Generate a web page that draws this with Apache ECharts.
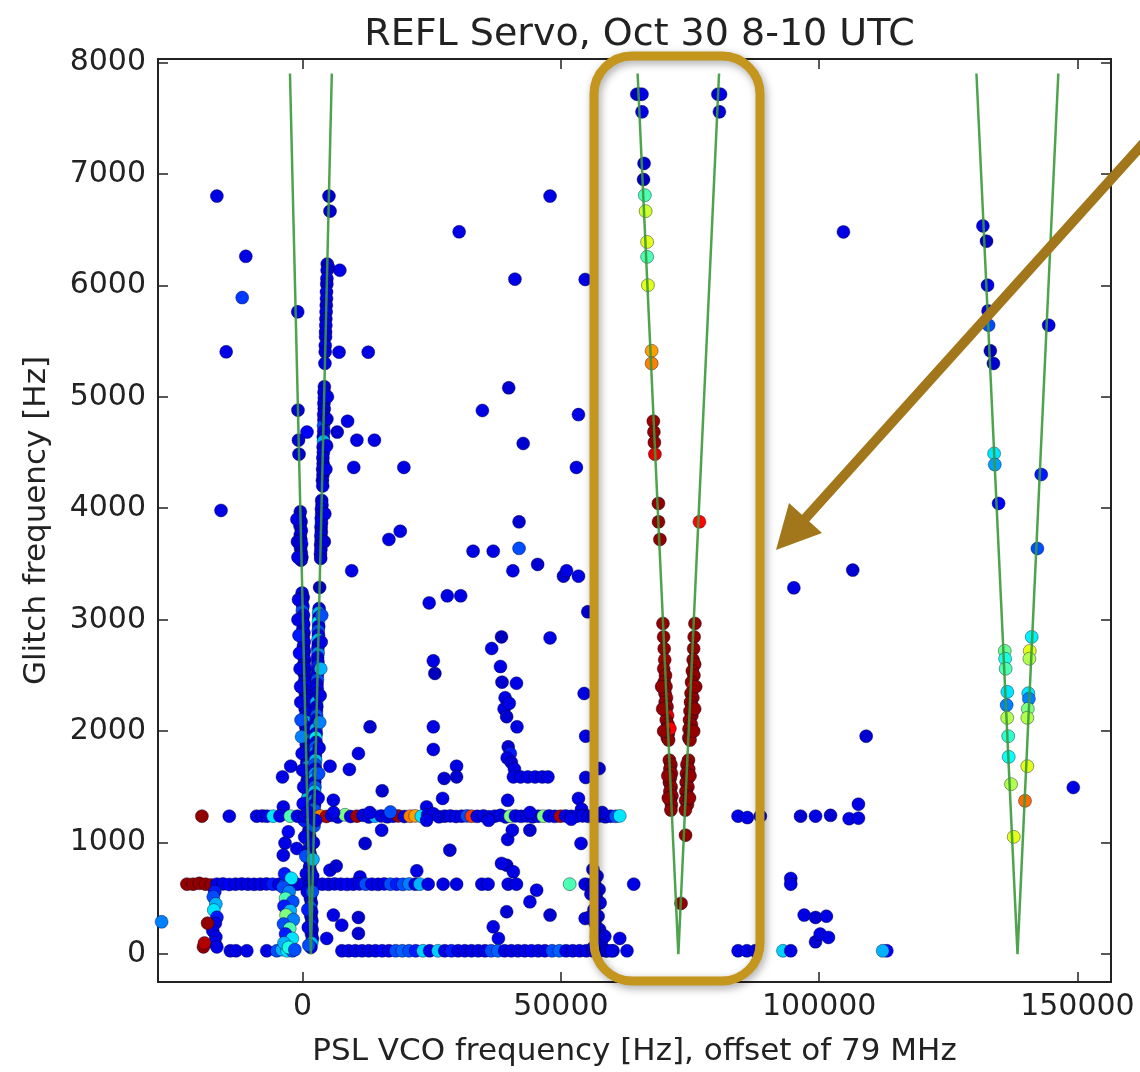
<!DOCTYPE html>
<html>
<head>
<meta charset="utf-8">
<script src="https://cdn.jsdelivr.net/npm/echarts@6/dist/echarts.min.js"></script>
<style>
html,body{margin:0;padding:0;background:#fff;}
#chart{width:1140px;height:1072px;}
</style>
</head>
<body>
<div id="chart"></div>
<script>
// ---- axis ticks ----
const xTicks = [0, 50000, 100000, 150000];
const yTicks = [0, 1000, 2000, 3000, 4000, 5000, 6000, 7000, 8000];

// ---- predicted glitch lines (V shapes) ----
const leftV  = [[-2450, 7900], [1600, 0], [5650, 7900]];
const midV   = [[64850, 7900], [72740, 0], [80620, 7900]];
const rightV = [[130450, 7900], [138400, 0], [146300, 7900]];

// ---- points: [VCO offset Hz, glitch freq Hz, colour value 0..1] ----
const scattered = [
 [-16600,6800,.1],[5100,6800,.08],[5300,6665,.08],[30300,6480,.1],[-11000,6260,.1],[-11700,5890,.18],
 [41100,6055,.1],[47900,6800,.1],[7200,6135,.1],[-950,5762,.1],[-14800,5403,.1],[7050,5400,.1],
 [12700,5400,.1],[39900,5080,.08],[34800,4877,.1],[53400,4840,.1],[42700,4581,.08],[53000,4366,.1],
 [8700,4781,.1],[6700,4683,.08],[10500,4611,.1],[13900,4611,.1],[9900,4366,.1],[19600,4366,.1],
 [850,4683,.12],[-15800,3980,.1],[41900,3878,.08],[18900,3794,.1],[16700,3720,.1],[33000,3615,.1],
 [36900,3615,.1],[41900,3640,.2],[40700,3439,.1],[45500,3496,.08],[50500,3391,.08],[51100,3439,.1],
 [53400,3391,.1],[55200,3071,.08],[9500,3439,.1],[24500,3151,.1],[28000,3214,.1],[30600,3214,.1],
 [38500,2846,.06],[36600,2742,.1],[47900,2837,.1],[25300,2631,.1],[25600,2518,.06],[54500,2338,.1],
 [54800,1955,.1],[57400,1665,.1],[54800,1585,.1],[53400,1397,.1],[53900,993,.1],[13050,2039,.08],
 [25300,2039,.1],[25300,1836,.1],[10800,1800,.1],[5300,1686,.1],[9050,1657,.1],[-2300,1686,.1],
 [-3900,1590,.1],[15400,1465,.08],[5950,1381,.1],[27100,1397,.1],[29800,1686,.1],[27400,1576,.08],
 [29800,1590,.08],[54700,6052,.1],
 [39200,2300,.1],[39000,2200,.1],[39500,2130,.08],[41500,2039,.1],[39800,1860,.08],[40200,1800,.15],
 [39600,1760,.1],[40400,1720,.08],[41000,1660,.1],[40800,1590,.1],[42200,1590,.1],[43600,1590,.1],
 [45000,1590,.1],[46400,1590,.1],[47500,1590,.1],[38300,2580,.1],[41400,2430,.1],[38600,2440,.08],
 [40000,2250,.1],
 [-3740,1321,.1],[24000,1321,.1],[-2770,1097,.12],[-3410,996,.1],[-1140,948,.1],[-3740,888,.1],
 [15300,1112,.1],[12100,993,.08],[28500,933,.08],[39700,1029,.1],[44000,1112,.08],[54000,1300,.1],
 [39700,1380,.1],[40600,1112,.1],
 [5300,753,.1],[6500,790,.08],[11100,693,.1],[22100,747,.1],[39500,798,.08],[40800,738,.1],
 [5950,350,.1],[7570,260,.1],[10800,329,.08],[10800,186,.08],[4660,141,.1],[39500,380,.08],
 [44000,469,.1],[45300,574,.1],[47900,350,.08],[36900,245,.1],[37900,141,.1],[54700,320,.1],[38500,814,.1],
 [95100,3286,.1],[106500,3445,.08],[104700,6479,.1],[149200,1495,.1],[109100,1955,.08],[107600,1345,.1],
 [94500,679,.1],[94500,628,.1],[97100,350,.1],[99300,329,.08],[101400,340,.1],[99300,110,.08],
 [100200,180,.1],[101800,150,.1],[113100,30,.12],[112300,30,.3],[93000,30,.33],[94500,30,.1],
 [84300,30,.1],[86000,30,.1],[87600,30,.1],[64100,628,.1],[61400,141,.1],[62800,30,.1],
 [84300,1238,.1],[86100,1225,.1],[88600,1238,.1],[96400,1238,.08],[99300,1238,.1],[102200,1245,.08],
 [105800,1215,.1],[107600,1220,.1]
];

const band1240 = [
 [-19500,1238,.98],[-14200,1238,.1],[-8900,1238,.1],[-7800,1240,.1],[-6900,1238,.1],[-5700,1238,.35],
 [-4400,1240,.1],[-2400,1238,.45],[-1000,1238,.1],
 [400,1238,.1],[1700,1230,.2],[3400,1240,.75],[4600,1235,.95],[5600,1245,.1],[6800,1230,.1],[8200,1250,.5],
 [9300,1235,.1],[10500,1238,.97],[11700,1245,.1],[12800,1230,.1],[14000,1238,.3],[15200,1240,.1],
 [16400,1232,.1],[17500,1238,.1],[18500,1240,.97],[19700,1235,.1],[20800,1238,.75],[21800,1240,.72],
 [23000,1236,.35],[24200,1250,.1],[25300,1260,.1],[26400,1232,.1],[27500,1238,.08],[28600,1240,.1],
 [29700,1235,.1],[30800,1238,.1],[31800,1240,.2],[32700,1238,.82],[33800,1236,.1],[35000,1240,.1],
 [36100,1232,.1],[37200,1238,.1],[38300,1245,.1],[39300,1230,.1],[40200,1238,.5],[41200,1240,.1],
 [42300,1236,.1],[43400,1240,.1],[44500,1232,.1],[45600,1238,.1],[46600,1238,.5],[47700,1240,.1],
 [48800,1236,.1],[49900,1238,.95],[50900,1240,.1],[52000,1236,.1],[53100,1238,.1],[54200,1240,.1],
 [55300,1236,.1],[56400,1238,.1],[57500,1240,.1],[58600,1232,.1],[59600,1238,.1],[60600,1236,.2],
 [61400,1240,.35],
 [1000,1275,.1],[2500,1200,.1],[6000,1270,.1],[13000,1270,.1],[17000,1275,.2],[24000,1200,.1],
 [36000,1200,.1],[44000,1270,.1],[52000,1210,.1],[58000,1270,.1]
];

const band630 = [
 [-22400,628,.98],[-21200,628,.98],[-20000,635,.98],[-18800,628,.98],[-17700,620,.98],
 [-16600,628,.1],[-15400,630,.1],[-14200,625,.12],[-13000,628,.1],[-11800,630,.1],[-10600,628,.1],
 [-9400,626,.1],[-8200,628,.1],[-7000,630,.1],[-5800,628,.15],[-4600,626,.1],[-3400,628,.2],
 [-2200,630,.1],[-1000,628,.1],[200,626,.1],[1400,630,.12],[2600,628,.1],[3800,628,.1],[5000,626,.1],
 [6200,630,.1],[7400,628,.1],[8600,626,.12],[9800,628,.1],[11000,630,.1],[12200,628,.2],[13400,628,.1],
 [14600,626,.1],[15800,630,.1],[17000,628,.2],[18200,628,.15],[19400,626,.2],[20600,630,.25],
 [21800,628,.1],[22700,628,.3],
 [24300,628,.1],[27200,628,.1],[29800,628,.1],[34700,628,.1],[35900,628,.1],[39800,628,.1],
 [41400,628,.1],[51700,628,.45],[54700,628,.1],[56000,628,.1]
];

const band30 = [
 [-14000,30,.1],[-12900,30,.1],[-10800,30,.1],[-6950,30,.1],[-5000,30,.2],[-4000,40,.3],[-3000,30,.35],
 [-2000,30,.2],
 [7600,30,.1],[8900,30,.1],[10200,30,.1],[11500,30,.1],[12800,30,.1],[14100,30,.1],[15400,30,.12],
 [16700,30,.1],[18000,30,.2],[19300,30,.22],[20600,30,.2],[21900,30,.15],[23300,30,.33],[24600,30,.1],
 [26200,30,.33],[27500,30,.1],[28800,30,.15],[30100,30,.1],[31400,30,.1],[32700,30,.1],[34000,30,.1],
 [35300,30,.1],[36500,30,.2],[37800,30,.22],[39100,30,.1],[40400,30,.1],[41700,30,.1],[43000,30,.1],
 [44300,30,.12],[45600,30,.1],[46900,30,.1],[48300,30,.2],[49700,30,.22],[51000,30,.1],[52300,30,.1],
 [53600,30,.1],[54900,30,.1],[56200,30,.1],[57500,30,.1],[58800,30,.1],[60100,30,.1]
];

const bracketPoints = [
 [-17000,560,.15],[-17300,514,.2],[-16800,450,.3],[-17200,395,.35],[-16600,330,.15],[-16900,278,.1],
 [-17400,210,.1],[-16800,153,.1],[-17000,100,.12],[-16600,65,.1],[-18400,278,.98],[-19200,65,.98],
 [-19000,100,.95],[-27300,290,.25],
 [-3500,720,.15],[-2200,680,.35],[-3800,600,.2],[-2600,560,.25],[-3300,500,.45],[-1900,470,.2],
 [-3600,430,.15],[-2400,390,.3],[-3200,350,.5],[-1800,310,.25],[-3700,270,.2],[-2500,230,.45],
 [-3300,180,.15],[-2000,140,.35],[-3600,100,.3],[-2700,60,.4],[-1500,40,.2],
 [56200,760,.1],[57000,700,.1],[56500,640,.1],[57400,580,.1],[56800,520,.1],[57600,460,.1],
 [56400,400,.12],[57200,340,.1],[56600,280,.1],[57500,220,.1],[56900,160,.1],[57800,100,.12],
 [56300,60,.1],[58800,30,.1],[59700,30,.1],[58500,160,.1],[55500,330,.1],[55800,540,.1]
];

const leftVArmA = [
 [-900,4880,.08],[-800,4611,.08],[-700,4485,.08],
 [-450,3968,.08],[-600,3920,.1],[-300,3880,.08],[-500,3840,.1],[-250,3800,.08],[-450,3760,.1],
 [-350,3720,.08],[-200,3680,.12],[-400,3640,.1],[-250,3600,.08],[-150,3560,.1],[-300,3534,.08],
 [-100,3240,.1],[100,3200,.08],[-150,3160,.12],[50,3120,.1],[-50,3080,.2],[150,3040,.1],[0,3000,.08],
 [200,2960,.1],[50,2920,.12],[250,2880,.1],[100,2840,.08],[300,2800,.1],[150,2760,.1],[350,2720,.08],
 [200,2680,.12],[400,2640,.1],[250,2600,.08],[450,2560,.1],[300,2520,.1],[500,2480,.08],[350,2440,.1],
 [550,2400,.12],[400,2360,.1],[600,2320,.08],[450,2280,.1],[650,2240,.1],[500,2200,.08],[700,2160,.12],
 [550,2120,.1],[750,2080,.3],[600,2040,.1],[800,2000,.08],[650,1960,.1],[850,1920,.2],[700,1880,.1],
 [900,1840,.08],[750,1800,.1],[950,1760,.12],[800,1720,.1],[1000,1680,.25],[850,1640,.1],[1050,1600,.08],
 [900,1560,.1],[1100,1520,.15],[950,1480,.1],[1150,1440,.08],[1000,1400,.3],[1200,1360,.1],[1050,1320,.1],
 [1250,1280,.08],[1100,1180,.1],[1300,1140,.2],[1150,1100,.1],[1350,1060,.08],[1200,1020,.1],[1400,980,.25],
 [1250,940,.1],[1450,900,.08],[1300,860,.1],[1500,820,.12],[1350,780,.1],[1550,740,.08],[1400,700,.3],
 [1600,660,.1],[1450,580,.1],[1650,540,.12],[1500,500,.1],[1700,460,.08],[1550,420,.2],[1750,380,.1],
 [1600,340,.1],[1800,300,.08],[1650,260,.15],[1850,220,.1],[1700,180,.1],[1900,140,.08],[1750,100,.3],
 [1600,60,.1],
 [-900,3000,.1],[-600,2700,.12],[-400,2400,.1],[-300,2100,.2],[-100,1800,.1],[200,1500,.1],[300,1200,.15],
 [-800,3180,.1],[-700,2860,.15],[-500,2560,.1],[-350,2260,.1],[-200,1950,.25],[0,1650,.1],[100,1350,.12],
 [400,1050,.1],[600,880,.2],[700,720,.1],[900,560,.1],[1000,400,.15],[1100,240,.1],[1200,80,.2],
 [-1100,3900,.1],[-1000,3700,.08],[-900,3560,.1]
];

const leftVArmB = [
 [4770,6190,.08],[5000,6160,.1],[4750,6135,.08],[4700,6060,.1],[4680,6010,.08],[4620,5940,.1],
 [4620,5880,.1],[4580,5820,.08],[4550,5760,.1],[4500,5700,.08],[4490,5640,.1],[4440,5580,.1],
 [4440,5537,.08],[4380,5460,.1],[4370,5403,.08],[4320,5300,.1],
 [4210,5090,.08],[4150,5040,.1],[4200,4990,.12],[4120,4940,.1],[4180,4890,.08],[4080,4840,.1],
 [4130,4790,.1],[4040,4740,.2],[4100,4690,.1],[4000,4640,.08],[4050,4600,.3],[3960,4550,.1],
 [4010,4500,.12],[3920,4450,.1],[3970,4400,.08],[3880,4350,.1],[3930,4300,.1],[3840,4250,.08],[3890,4200,.1],
 [3690,4070,.08],[3750,4030,.1],[3650,3990,.1],[3700,3950,.08],[3610,3910,.1],[3660,3870,.12],
 [3570,3830,.1],[3620,3790,.08],[3530,3750,.1],[3580,3710,.1],[3490,3670,.08],[3540,3630,.1],
 [3450,3590,.1],[3500,3550,.08],[3290,3290,.06],
 [3190,3100,.1],[3100,3060,.3],[3150,3020,.1],[3060,2980,.35],[3110,2940,.1],[3020,2900,.2],[3070,2860,.1],
 [2980,2820,.3],[3030,2780,.1],[2940,2740,.1],[2990,2700,.25],[2900,2660,.1],[2950,2620,.1],[2860,2580,.15],
 [2910,2540,.1],[2820,2500,.1],[2870,2460,.2],[2780,2420,.1],[2830,2380,.12],[2740,2340,.1],[2790,2300,.1],
 [2700,2260,.3],[2750,2220,.1],[2660,2180,.1],[2710,2140,.2],[2620,2100,.1],[2670,2060,.1],[2580,2020,.3],
 [2630,1980,.1],[2540,1940,.35],[2590,1900,.1],[2500,1860,.2],[2550,1820,.25],[2460,1780,.1],[2510,1740,.3],
 [2420,1700,.2],[2470,1660,.1],[2380,1620,.25],[2430,1580,.3],[2340,1540,.1],[2390,1500,.2],[2300,1460,.3],
 [2350,1420,.1],[2260,1380,.25],[2310,1340,.1],[2220,1300,.2],[2200,1150,.2],[2100,1000,.1],[2000,850,.3],
 [1950,700,.1],[1900,560,.2],
 [4800,5000,.1],[4700,4800,.08],[4650,4560,.1],[4500,4350,.1],[4300,3950,.1],[4200,3700,.08],
 [3700,3040,.2],[3600,2800,.1],[3500,2560,.3],[3400,2320,.1],[3300,2080,.25],[3200,1850,.1],[3100,1620,.2],[3000,1400,.1]
];

const midVPoints = [
 [64700,7714,.1],[65200,7714,.08],[65700,7714,.1],[65700,7556,.1],[66100,7093,.08],[66000,6949,.06],
 [66250,6808,.45],[66400,6665,.58],[66690,6389,.6],[66700,6255,.45],[66850,6001,.6],
 [67570,5412,.72],[67570,5299,.75],
 [67900,4781,.97],[68000,4685,.98],[68100,4590,.98],[68200,4485,.9],[68880,4043,.98],[68900,3878,.98],[69170,3720,.98],
 [69760,2966,.98],[69880,2846,.98],[70000,2740,.98],[70100,2640,.97],[69900,2560,.98],[70250,2500,.98],
 [70000,2440,.98],[70350,2400,.98],[70150,2340,.98],[70450,2300,.97],[70200,2260,.98],[70550,2220,.98],
 [70300,2180,.98],[70650,2140,.9],[70400,2100,.98],[70750,2060,.98],[70500,2020,.98],[70800,1980,.98],
 [70600,1940,.98],[70850,1920,.98],
 [71000,1740,.98],[71300,1700,.98],[71100,1660,.98],[71400,1620,.98],[71200,1580,.98],[71000,1540,.98],
 [71350,1500,.98],[71100,1460,.98],[71500,1420,.98],[71200,1380,.98],[71400,1340,.98],[71300,1292,.98],
 [80400,7714,.1],[80900,7714,.1],[80690,7556,.08],[76820,3878,.87],
 [75950,2966,.98],[75800,2846,.98],[75700,2740,.98],[75600,2640,.98],[75900,2600,.98],[75450,2540,.98],
 [75750,2500,.98],[75300,2440,.98],[75650,2400,.88],[75200,2340,.98],[75550,2300,.98],[75100,2260,.98],
 [75450,2220,.98],[75000,2180,.98],[75350,2140,.98],[74900,2100,.98],[75250,2060,.98],[74800,2020,.98],
 [75100,1980,.98],[74750,1940,.98],[75000,1920,.98],
 [74700,1740,.98],[74400,1700,.98],[74750,1660,.98],[74300,1620,.98],[74650,1580,.98],[74250,1540,.98],
 [74600,1500,.98],[74200,1460,.98],[74550,1420,.98],[74150,1380,.98],[74500,1340,.98],[74100,1292,.98],
 [74130,1067,.98],[73260,455,.98],[71100,2024,.88],
 [69500,2400,.98],[69700,2200,.98],[69900,2000,.98],[76100,2400,.98],[75900,2200,.98],[75700,2000,.98],
 [70700,1600,.98],[70800,1400,.98],[75000,1600,.98],[74900,1400,.98]
];

const rightVPoints = [
 [131700,6533,.1],[132400,6396,.06],[132600,6001,.1],[132700,5770,.08],[132800,5642,.2],[133140,5412,.06],
 [133740,5299,.08],[133870,4491,.35],[134000,4392,.28],[134740,4043,.12],[135930,2720,.48],[136000,2650,.4],
 [136100,2560,.45],[136430,2353,.35],[136300,2234,.25],[136400,2120,.55],[136600,1955,.42],[136700,1770,.38],
 [137150,1525,.55],[137670,1052,.6],
 [144440,5642,.1],[142990,4303,.15],[142250,3639,.2],[141150,2846,.36],[140770,2720,.6],[140700,2650,.55],
 [140500,2340,.35],[140600,2290,.25],[140400,2200,.5],[140300,2120,.55],[140290,1686,.6],[139850,1375,.77]
];

const jet = ['#00007f','#0000ff','#007fff','#00ffff','#7fff7f','#ffff00','#ff7f00','#ff0000','#7f0000'];
const FONT = 'DejaVu Sans';
const TXT = '#222';

const chart = echarts.init(document.getElementById('chart'), null, {renderer: 'canvas'});

function scatterSeries(name, data) {
  return {
    name: name, type: 'scatter', data: data, symbolSize: 13,
    xAxisIndex: 0, yAxisIndex: 0,
    itemStyle: {opacity: 1, borderColor: 'rgba(0,0,40,0.4)', borderWidth: 1},
    emphasis: {disabled: true}, z: 2
  };
}
function vSeries(name, data) {
  return {
    name: name, type: 'line', data: data, symbol: 'none',
    xAxisIndex: 0, yAxisIndex: 0,
    lineStyle: {color: '#3a9a3a', width: 2.5, opacity: 0.9},
    emphasis: {disabled: true}, z: 5, animation: false
  };
}

const tickStyle = {show: true, inside: true, length: 10, lineStyle: {color: '#222', width: 1.5}};
const plain = v => String(v);

const option = {
  animation: false,
  backgroundColor: '#ffffff',
  title: {
    text: 'REFL Servo, Oct 30 8-10 UTC',
    left: 634.5, top: 11, textAlign: 'center',
    textStyle: {fontFamily: FONT, fontSize: 38, fontWeight: 'normal', color: TXT}
  },
  grid: {left: 158, right: 29, top: 59, bottom: 90, show: true, borderColor: '#222', borderWidth: 2, backgroundColor: 'transparent'},
  xAxis: [{
    type: 'value', min: -28000, max: 156500, position: 'bottom',
    axisLine: {show: false, onZero: false},
    axisTick: Object.assign({customValues: xTicks}, tickStyle),
    axisLabel: {customValues: xTicks, formatter: plain, fontFamily: FONT, fontSize: 30, color: TXT, margin: 10},
    splitLine: {show: false},
    name: 'PSL VCO frequency [Hz], offset of 79 MHz', nameLocation: 'middle', nameGap: 54,
    nameTextStyle: {fontFamily: FONT, fontSize: 31, color: TXT}
  }, {
    type: 'value', min: -28000, max: 156500, position: 'top',
    axisLine: {show: false, onZero: false},
    axisTick: Object.assign({customValues: xTicks}, tickStyle),
    axisLabel: {show: false, customValues: xTicks},
    splitLine: {show: false}
  }],
  yAxis: [{
    type: 'value', min: -250, max: 8030, position: 'left',
    axisLine: {show: false, onZero: false},
    axisTick: Object.assign({customValues: yTicks}, tickStyle),
    axisLabel: {customValues: yTicks, formatter: plain, fontFamily: FONT, fontSize: 30, color: TXT, margin: 12},
    splitLine: {show: false},
    name: 'Glitch frequency [Hz]', nameLocation: 'middle', nameGap: 106, nameRotate: 90,
    nameTextStyle: {fontFamily: FONT, fontSize: 31, color: TXT}
  }, {
    type: 'value', min: -250, max: 8030, position: 'right',
    axisLine: {show: false, onZero: false},
    axisTick: Object.assign({customValues: yTicks}, tickStyle),
    axisLabel: {show: false, customValues: yTicks},
    splitLine: {show: false}
  }],
  visualMap: {
    type: 'continuous', show: false, min: 0, max: 1, dimension: 2,
    seriesIndex: [0, 1, 2, 3, 4, 5, 6, 7, 8],
    inRange: {color: jet}
  },
  series: [
    scatterSeries('scattered', scattered),
    scatterSeries('band30', band30),
    scatterSeries('band630', band630),
    scatterSeries('bracket', bracketPoints),
    scatterSeries('leftArmA', leftVArmA),
    scatterSeries('leftArmB', leftVArmB),
    scatterSeries('band1240', band1240),
    scatterSeries('midV', midVPoints),
    scatterSeries('rightV', rightVPoints),
    vSeries('leftV', leftV),
    vSeries('midVline', midV),
    vSeries('rightVline', rightV)
  ],
  graphic: [
    {
      type: 'rect', z: 100,
      shape: {x: 594, y: 56, width: 166, height: 925, r: 38},
      style: {fill: 'none', stroke: '#C4961E', lineWidth: 9,
        shadowBlur: 8, shadowColor: 'rgba(0,0,0,0.35)', shadowOffsetX: 2, shadowOffsetY: 3}
    },
    {
      type: 'line', z: 100,
      shape: {x1: 1150, y1: 136, x2: 803, y2: 521},
      style: {stroke: '#A2761A', lineWidth: 10}
    },
    {
      type: 'polygon', z: 100,
      shape: {points: [[776, 550], [789, 503], [822, 533]]},
      style: {fill: '#A2761A'}
    }
  ]
};
chart.setOption(option);
</script>
</body>
</html>
